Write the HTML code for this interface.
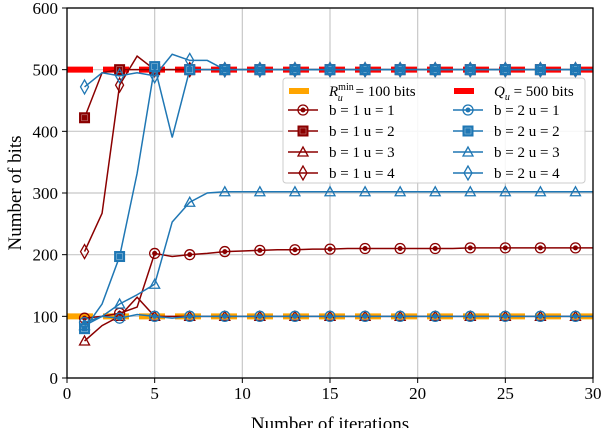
<!DOCTYPE html>
<html><head><meta charset="utf-8"><style>
body{margin:0;background:#fff;}
svg{display:block;font-family:"Liberation Serif",serif;}
</style></head><body>
<svg id="c" width="602" height="428"></svg>
<script>
const xTicks=[0,5,10,15,20,25,30];
const yTicks=[0,100,200,300,400,500,600];
const iters=[1,2,3,4,5,6,7,8,9,10,11,12,13,14,15,16,17,18,19,20,21,22,23,24,25,26,27,28,29,30];
const rMin=100, qU=500;
const b1u1=[97,100,105,115,202,197,200,202,205,206,207,208,208,209,209,210,210,210,210,210,210,210,211,211,211,211,211,211,211,211];
const b1u2=[422,495,500,500,500,500,500,500,500,500,500,500,500,500,500,500,500,500,500,500,500,500,500,500,500,500,500,500,500,500];
const b1u3=[60,85,100,131,100,100,100,100,100,100,100,100,100,100,100,100,100,100,100,100,100,100,100,100,100,100,100,100,100,100];
const b1u4=[205,267,475,522,500,500,500,500,500,500,500,500,500,500,500,500,500,500,500,500,500,500,500,500,500,500,500,500,500,500];
const b2u1=[90,100,97,103,100,97,100,100,100,100,100,100,100,100,100,100,100,100,100,100,100,100,100,100,100,100,100,100,100,100];
const b2u2=[80,120,197,332,505,390,500,500,500,500,500,500,500,500,500,500,500,500,500,500,500,500,500,500,500,500,500,500,500,500];
const b2u3=[85,100,120,135,152,253,285,300,302,302,302,302,302,302,302,302,302,302,302,302,302,302,302,302,302,302,302,302,302,302];
const b2u4=[472,495,490,495,490,525,515,515,500,500,500,500,500,500,500,500,500,500,500,500,500,500,500,500,500,500,500,500,500,500];

const L=67,R=593,T=8,B=378;
const sx=v=>L+(v-0)/30*(R-L);
const sy=v=>B-(v/600)*(B-T);
const svg=document.getElementById('c');
const NS='http://www.w3.org/2000/svg';
function mk(tag,attrs,parent){const e=document.createElementNS(NS,tag);for(const k in attrs)e.setAttribute(k,attrs[k]);(parent||svg).appendChild(e);return e;}

const grid=mk('g',{});


xTicks.forEach(t=>mk('line',{x1:sx(t),x2:sx(t),y1:T,y2:B,stroke:'#c8c8c8','stroke-width':1.2},grid));
yTicks.forEach(t=>mk('line',{x1:L,x2:R,y1:sy(t),y2:sy(t),stroke:'#c8c8c8','stroke-width':1.2},grid));

const ax=mk('g',{'font-size':17,fill:'#000'});


xTicks.forEach(t=>{mk('line',{x1:sx(t),x2:sx(t),y1:B,y2:B+5,stroke:'#000'},ax);const tx=mk('text',{x:sx(t),y:B+21,'text-anchor':'middle'},ax);tx.textContent=t;});
yTicks.forEach(t=>{mk('line',{x1:L-5,x2:L,y1:sy(t),y2:sy(t),stroke:'#000'},ax);const tx=mk('text',{x:L-9,y:sy(t)+6,'text-anchor':'end'},ax);tx.textContent=t;});
const xt=mk('text',{x:(L+R)/2,y:430,'text-anchor':'middle','font-size':19},ax);xt.textContent='Number of iterations';


const yt=mk('text',{x:0,y:0,'text-anchor':'middle','font-size':19,transform:`translate(21,${(T+B)/2}) rotate(-90)`},ax);yt.textContent='Number of bits';



const rl1=mk('line',{x1:L,x2:R,y1:sy(rMin),y2:sy(rMin),stroke:'#ffa500','stroke-width':6,'stroke-dasharray':'26 10'});


const rl2=mk('line',{x1:L,x2:R,y1:sy(qU),y2:sy(qU),stroke:'#ff0000','stroke-width':6,'stroke-dasharray':'26 10'});



const RED='#8b0000',BLUE='#1f77b4';
function marker(g,shape,x,y,col){
  const a={fill:'none',stroke:col,'stroke-width':1.3};
  if(shape==='circle'){mk('circle',Object.assign({cx:x,cy:y,r:5},a),g);mk('circle',{cx:x,cy:y,r:2.5,fill:col},g);}
  else if(shape==='square'){mk('rect',{x:x-5,y:y-5,width:10,height:10,fill:col,stroke:col},g);mk('rect',{x:x-3,y:y-3,width:6,height:6,fill:'none',stroke:'#fff','stroke-width':0.6,opacity:0.5},g);}
  else if(shape==='triangle'){mk('polygon',Object.assign({points:`${x},${y-5} ${x-5},${y+4} ${x+5},${y+4}`},a),g);}
  else {mk('polygon',Object.assign({points:`${x},${y-7} ${x-4},${y} ${x},${y+7} ${x+4},${y}`},a),g);}
}
const series=[[b1u1,RED,'circle','b1-u1'],[b1u2,RED,'square','b1-u2'],[b1u3,RED,'triangle','b1-u3'],[b1u4,RED,'diamond','b1-u4'],
[b2u1,BLUE,'circle','b2-u1'],[b2u2,BLUE,'square','b2-u2'],[b2u3,BLUE,'triangle','b2-u3'],[b2u4,BLUE,'diamond','b2-u4']];
series.forEach(([d,col,sh,nm])=>{
  const g=mk('g',{});
  
  
  mk('polyline',{points:d.map((v,i)=>sx(iters[i])+','+sy(v)).join(' '),fill:'none',stroke:col,'stroke-width':1.5},g);
  d.forEach((v,i)=>{if(iters[i]%2===1)marker(g,sh,sx(iters[i]),sy(v),col);});
});

const fr=mk('rect',{x:L,y:T,width:R-L,height:B-T,fill:'none',stroke:'#000','stroke-width':1.3});



const lg=mk('g',{'font-size':15});


mk('rect',{x:283,y:78,width:302,height:105,rx:3,fill:'#fff','fill-opacity':0.85,stroke:'#ccc'},lg);
const items=[
 [288,91,'#ffa500','ref','R','min',' = 100 bits'],[453,91,'#ff0000','ref','Q','',' = 500 bits']];
items.forEach(([x,y,c,_,v,sup,rest])=>{
  mk('rect',{x:x+1,y:y-3,width:20,height:6,fill:c},lg);
  const t=mk('text',{x:x+41,y:y+5},lg);
  const s1=mk('tspan',{'font-style':'italic'},t);s1.textContent=v;
  if(sup){const s2=mk('tspan',{dy:-6,'font-size':10},t);s2.textContent=sup;const s3=mk('tspan',{dx:-16,dy:11,'font-size':10,'font-style':'italic'},t);s3.textContent='u';const s4=mk('tspan',{dx:9,dy:-5},t);s4.textContent=rest;}
  else{const s3=mk('tspan',{dy:4,'font-size':10,'font-style':'italic'},t);s3.textContent='u';const s4=mk('tspan',{dy:-4},t);s4.textContent=rest;}
  
  
});
const shapes=['circle','square','triangle','diamond'];
[[RED,288,1],[BLUE,453,2]].forEach(([col,x,b])=>{
  shapes.forEach((sh,i)=>{
    const y=110+i*21;
    mk('line',{x1:x,x2:x+30,y1:y,y2:y,stroke:col,'stroke-width':1.5},lg);
    marker(lg,sh,x+15,y,col);
    const t=mk('text',{x:x+41,y:y+5},lg);t.textContent=`b = ${b} u = ${i+1}`;
    
    
  });
});
</script>
</body></html>
